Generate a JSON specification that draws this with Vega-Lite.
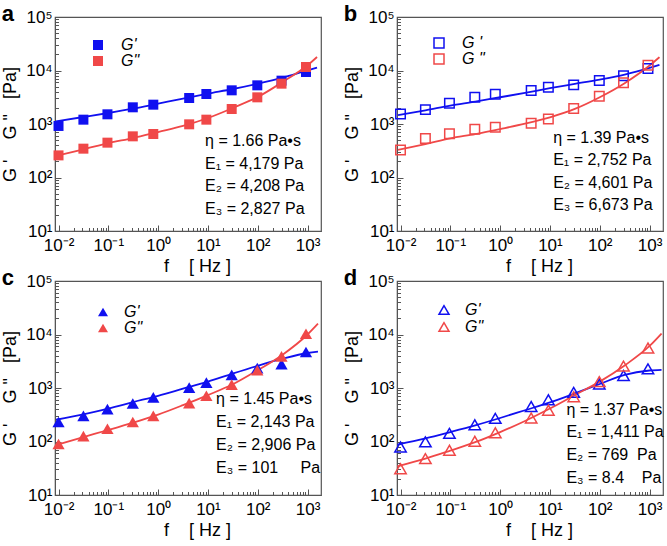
{
  "$schema": "https://vega.github.io/schema/vega-lite/v6.json",
  "padding": {"left": 1, "top": 2, "right": 2, "bottom": 2},
  "columns": 2,
  "spacing": {"row": 50, "column": 76},
  "bounds": "flush",
  "resolve": {"scale": {"color": "independent", "stroke": "independent"}, "legend": {"color": "independent", "stroke": "independent"}},
  "datasets": {
    "points": [
      {"panel": "a", "series": "Gp", "f": 0.01, "G": 919},
      {"panel": "a", "series": "Gp", "f": 0.0316, "G": 1205},
      {"panel": "a", "series": "Gp", "f": 0.096, "G": 1517},
      {"panel": "a", "series": "Gp", "f": 0.31, "G": 2051},
      {"panel": "a", "series": "Gp", "f": 0.8, "G": 2298},
      {"panel": "a", "series": "Gp", "f": 4.2, "G": 3062},
      {"panel": "a", "series": "Gp", "f": 9.3, "G": 3636},
      {"panel": "a", "series": "Gp", "f": 30, "G": 4260},
      {"panel": "a", "series": "Gp", "f": 98, "G": 5280},
      {"panel": "a", "series": "Gp", "f": 300, "G": 6457},
      {"panel": "a", "series": "Gp", "f": 930, "G": 9380},
      {"panel": "a", "series": "Gpp", "f": 0.01, "G": 259},
      {"panel": "a", "series": "Gpp", "f": 0.0316, "G": 346},
      {"panel": "a", "series": "Gpp", "f": 0.096, "G": 448},
      {"panel": "a", "series": "Gpp", "f": 0.31, "G": 588},
      {"panel": "a", "series": "Gpp", "f": 0.8, "G": 650},
      {"panel": "a", "series": "Gpp", "f": 4.2, "G": 986},
      {"panel": "a", "series": "Gpp", "f": 9.3, "G": 1205},
      {"panel": "a", "series": "Gpp", "f": 30, "G": 1905},
      {"panel": "a", "series": "Gpp", "f": 98, "G": 3150},
      {"panel": "a", "series": "Gpp", "f": 300, "G": 5675},
      {"panel": "a", "series": "Gpp", "f": 930, "G": 11620},
      {"panel": "b", "series": "Gp", "f": 0.01, "G": 1540},
      {"panel": "b", "series": "Gp", "f": 0.0316, "G": 1857},
      {"panel": "b", "series": "Gp", "f": 0.096, "G": 2441},
      {"panel": "b", "series": "Gp", "f": 0.31, "G": 3162},
      {"panel": "b", "series": "Gp", "f": 0.8, "G": 3597},
      {"panel": "b", "series": "Gp", "f": 4.2, "G": 4217},
      {"panel": "b", "series": "Gp", "f": 9.3, "G": 4870},
      {"panel": "b", "series": "Gp", "f": 30, "G": 5386},
      {"panel": "b", "series": "Gp", "f": 98, "G": 6494},
      {"panel": "b", "series": "Gp", "f": 300, "G": 7943},
      {"panel": "b", "series": "Gp", "f": 930, "G": 10900},
      {"panel": "b", "series": "Gpp", "f": 0.01, "G": 325},
      {"panel": "b", "series": "Gpp", "f": 0.0316, "G": 538},
      {"panel": "b", "series": "Gpp", "f": 0.096, "G": 659},
      {"panel": "b", "series": "Gpp", "f": 0.31, "G": 794},
      {"panel": "b", "series": "Gpp", "f": 0.8, "G": 866},
      {"panel": "b", "series": "Gpp", "f": 4.2, "G": 1029},
      {"panel": "b", "series": "Gpp", "f": 9.3, "G": 1241},
      {"panel": "b", "series": "Gpp", "f": 30, "G": 1939},
      {"panel": "b", "series": "Gpp", "f": 98, "G": 3306},
      {"panel": "b", "series": "Gpp", "f": 300, "G": 5878},
      {"panel": "b", "series": "Gpp", "f": 930, "G": 12590},
      {"panel": "c", "series": "Gp", "f": 0.01, "G": 232},
      {"panel": "c", "series": "Gp", "f": 0.0316, "G": 301},
      {"panel": "c", "series": "Gp", "f": 0.096, "G": 402},
      {"panel": "c", "series": "Gp", "f": 0.31, "G": 514},
      {"panel": "c", "series": "Gp", "f": 0.8, "G": 667},
      {"panel": "c", "series": "Gp", "f": 4.2, "G": 1014},
      {"panel": "c", "series": "Gp", "f": 9.3, "G": 1262},
      {"panel": "c", "series": "Gp", "f": 30, "G": 1758},
      {"panel": "c", "series": "Gp", "f": 98, "G": 2350},
      {"panel": "c", "series": "Gp", "f": 300, "G": 2799},
      {"panel": "c", "series": "Gp", "f": 930, "G": 4710},
      {"panel": "c", "series": "Gpp", "f": 0.01, "G": 90},
      {"panel": "c", "series": "Gpp", "f": 0.0316, "G": 126},
      {"panel": "c", "series": "Gpp", "f": 0.096, "G": 173},
      {"panel": "c", "series": "Gpp", "f": 0.31, "G": 232},
      {"panel": "c", "series": "Gpp", "f": 0.8, "G": 301},
      {"panel": "c", "series": "Gpp", "f": 4.2, "G": 521},
      {"panel": "c", "series": "Gpp", "f": 9.3, "G": 716},
      {"panel": "c", "series": "Gpp", "f": 30, "G": 1155},
      {"panel": "c", "series": "Gpp", "f": 98, "G": 2153},
      {"panel": "c", "series": "Gpp", "f": 300, "G": 3900},
      {"panel": "c", "series": "Gpp", "f": 930, "G": 10300},
      {"panel": "d", "series": "Gp", "f": 0.01, "G": 79},
      {"panel": "d", "series": "Gp", "f": 0.0316, "G": 98.6},
      {"panel": "d", "series": "Gp", "f": 0.096, "G": 141.6},
      {"panel": "d", "series": "Gp", "f": 0.31, "G": 206},
      {"panel": "d", "series": "Gp", "f": 0.8, "G": 271},
      {"panel": "d", "series": "Gp", "f": 4.2, "G": 451},
      {"panel": "d", "series": "Gp", "f": 9.3, "G": 603},
      {"panel": "d", "series": "Gp", "f": 30, "G": 829},
      {"panel": "d", "series": "Gp", "f": 98, "G": 1189},
      {"panel": "d", "series": "Gp", "f": 300, "G": 1709},
      {"panel": "d", "series": "Gp", "f": 930, "G": 2280},
      {"panel": "d", "series": "Gpp", "f": 0.01, "G": 31},
      {"panel": "d", "series": "Gpp", "f": 0.0316, "G": 47.8},
      {"panel": "d", "series": "Gpp", "f": 0.096, "G": 68.6},
      {"panel": "d", "series": "Gpp", "f": 0.31, "G": 101},
      {"panel": "d", "series": "Gpp", "f": 0.8, "G": 146},
      {"panel": "d", "series": "Gpp", "f": 4.2, "G": 275},
      {"panel": "d", "series": "Gpp", "f": 9.3, "G": 384},
      {"panel": "d", "series": "Gpp", "f": 30, "G": 686},
      {"panel": "d", "series": "Gpp", "f": 98, "G": 1315},
      {"panel": "d", "series": "Gpp", "f": 300, "G": 2564},
      {"panel": "d", "series": "Gpp", "f": 930, "G": 5601}
    ],
    "fits": [
      {"panel": "a", "curve": "Fp", "f": 0.0089, "G": 1120},
      {"panel": "a", "curve": "Fp", "f": 0.0316, "G": 1352},
      {"panel": "a", "curve": "Fp", "f": 0.1, "G": 1606},
      {"panel": "a", "curve": "Fp", "f": 0.316, "G": 1935},
      {"panel": "a", "curve": "Fp", "f": 1, "G": 2400},
      {"panel": "a", "curve": "Fp", "f": 3.16, "G": 2980},
      {"panel": "a", "curve": "Fp", "f": 10, "G": 3690},
      {"panel": "a", "curve": "Fp", "f": 31.6, "G": 4510},
      {"panel": "a", "curve": "Fp", "f": 100, "G": 5675},
      {"panel": "a", "curve": "Fp", "f": 316, "G": 7350},
      {"panel": "a", "curve": "Fp", "f": 1000, "G": 10070},
      {"panel": "a", "curve": "Fp", "f": 1550, "G": 11300},
      {"panel": "a", "curve": "Fpp", "f": 0.0089, "G": 255},
      {"panel": "a", "curve": "Fpp", "f": 0.0316, "G": 336},
      {"panel": "a", "curve": "Fpp", "f": 0.1, "G": 441},
      {"panel": "a", "curve": "Fpp", "f": 0.316, "G": 547},
      {"panel": "a", "curve": "Fpp", "f": 1, "G": 708},
      {"panel": "a", "curve": "Fpp", "f": 3.16, "G": 918},
      {"panel": "a", "curve": "Fpp", "f": 10, "G": 1294},
      {"panel": "a", "curve": "Fpp", "f": 31.6, "G": 1991},
      {"panel": "a", "curve": "Fpp", "f": 100, "G": 3199},
      {"panel": "a", "curve": "Fpp", "f": 316, "G": 6095},
      {"panel": "a", "curve": "Fpp", "f": 1000, "G": 12500},
      {"panel": "a", "curve": "Fpp", "f": 1550, "G": 17880},
      {"panel": "b", "curve": "Fp", "f": 0.0089, "G": 1470},
      {"panel": "b", "curve": "Fp", "f": 0.0316, "G": 1803},
      {"panel": "b", "curve": "Fp", "f": 0.1, "G": 2206},
      {"panel": "b", "curve": "Fp", "f": 0.316, "G": 2622},
      {"panel": "b", "curve": "Fp", "f": 1, "G": 3162},
      {"panel": "b", "curve": "Fp", "f": 3.16, "G": 3814},
      {"panel": "b", "curve": "Fp", "f": 10, "G": 4665},
      {"panel": "b", "curve": "Fp", "f": 31.6, "G": 5623},
      {"panel": "b", "curve": "Fp", "f": 100, "G": 6780},
      {"panel": "b", "curve": "Fp", "f": 316, "G": 8414},
      {"panel": "b", "curve": "Fp", "f": 1000, "G": 11220},
      {"panel": "b", "curve": "Fp", "f": 1580, "G": 12770},
      {"panel": "b", "curve": "Fpp", "f": 0.0089, "G": 330},
      {"panel": "b", "curve": "Fpp", "f": 0.0316, "G": 422},
      {"panel": "b", "curve": "Fpp", "f": 0.1, "G": 538},
      {"panel": "b", "curve": "Fpp", "f": 0.316, "G": 649},
      {"panel": "b", "curve": "Fpp", "f": 1, "G": 806},
      {"panel": "b", "curve": "Fpp", "f": 3.16, "G": 1014},
      {"panel": "b", "curve": "Fpp", "f": 10, "G": 1334},
      {"panel": "b", "curve": "Fpp", "f": 31.6, "G": 1911},
      {"panel": "b", "curve": "Fpp", "f": 100, "G": 3162},
      {"panel": "b", "curve": "Fpp", "f": 316, "G": 5788},
      {"panel": "b", "curve": "Fpp", "f": 1000, "G": 12400},
      {"panel": "b", "curve": "Fpp", "f": 1580, "G": 17780},
      {"panel": "c", "curve": "Fp", "f": 0.0089, "G": 255},
      {"panel": "c", "curve": "Fp", "f": 0.0316, "G": 323},
      {"panel": "c", "curve": "Fp", "f": 0.1, "G": 413},
      {"panel": "c", "curve": "Fp", "f": 0.316, "G": 545},
      {"panel": "c", "curve": "Fp", "f": 1, "G": 716},
      {"panel": "c", "curve": "Fp", "f": 3.16, "G": 970},
      {"panel": "c", "curve": "Fp", "f": 10, "G": 1315},
      {"panel": "c", "curve": "Fp", "f": 31.6, "G": 1862},
      {"panel": "c", "curve": "Fp", "f": 100, "G": 2600},
      {"panel": "c", "curve": "Fp", "f": 316, "G": 3524},
      {"panel": "c", "curve": "Fp", "f": 1000, "G": 4508},
      {"panel": "c", "curve": "Fp", "f": 1620, "G": 4775},
      {"panel": "c", "curve": "Fpp", "f": 0.0089, "G": 86},
      {"panel": "c", "curve": "Fpp", "f": 0.0316, "G": 121},
      {"panel": "c", "curve": "Fpp", "f": 0.1, "G": 164},
      {"panel": "c", "curve": "Fpp", "f": 0.316, "G": 225},
      {"panel": "c", "curve": "Fpp", "f": 1, "G": 318},
      {"panel": "c", "curve": "Fpp", "f": 3.16, "G": 478},
      {"panel": "c", "curve": "Fpp", "f": 10, "G": 738},
      {"panel": "c", "curve": "Fpp", "f": 31.6, "G": 1172},
      {"panel": "c", "curve": "Fpp", "f": 100, "G": 2153},
      {"panel": "c", "curve": "Fpp", "f": 316, "G": 4198},
      {"panel": "c", "curve": "Fpp", "f": 1000, "G": 10000},
      {"panel": "c", "curve": "Fpp", "f": 1620, "G": 15900},
      {"panel": "d", "curve": "Fp", "f": 0.0086, "G": 87.7},
      {"panel": "d", "curve": "Fp", "f": 0.0316, "G": 114},
      {"panel": "d", "curve": "Fp", "f": 0.1, "G": 150},
      {"panel": "d", "curve": "Fp", "f": 0.316, "G": 200},
      {"panel": "d", "curve": "Fp", "f": 1, "G": 275},
      {"panel": "d", "curve": "Fp", "f": 3.16, "G": 384},
      {"panel": "d", "curve": "Fp", "f": 10, "G": 537},
      {"panel": "d", "curve": "Fp", "f": 31.6, "G": 792},
      {"panel": "d", "curve": "Fp", "f": 100, "G": 1189},
      {"panel": "d", "curve": "Fp", "f": 316, "G": 1758},
      {"panel": "d", "curve": "Fp", "f": 1000, "G": 2123},
      {"panel": "d", "curve": "Fp", "f": 1740, "G": 2188},
      {"panel": "d", "curve": "Fpp", "f": 0.0086, "G": 34.3},
      {"panel": "d", "curve": "Fpp", "f": 0.0316, "G": 47.8},
      {"panel": "d", "curve": "Fpp", "f": 0.1, "G": 67.6},
      {"panel": "d", "curve": "Fpp", "f": 0.316, "G": 97},
      {"panel": "d", "curve": "Fpp", "f": 1, "G": 150},
      {"panel": "d", "curve": "Fpp", "f": 3.16, "G": 242},
      {"panel": "d", "curve": "Fpp", "f": 10, "G": 413},
      {"panel": "d", "curve": "Fpp", "f": 31.6, "G": 738},
      {"panel": "d", "curve": "Fpp", "f": 100, "G": 1315},
      {"panel": "d", "curve": "Fpp", "f": 316, "G": 2636},
      {"panel": "d", "curve": "Fpp", "f": 1000, "G": 6110},
      {"panel": "d", "curve": "Fpp", "f": 1740, "G": 10440}
    ],
    "notes": [
      {"panel": "a", "text": "η = 1.66 Pa•s", "fx": 8.75, "gy": 388},
      {"panel": "a", "text": "E₁ = 4,179 Pa", "fx": 8.75, "gy": 147.3},
      {"panel": "a", "text": "E₂ = 4,208 Pa", "fx": 8.75, "gy": 55.9},
      {"panel": "a", "text": "E₃ = 2,827 Pa", "fx": 8.75, "gy": 21.2},
      {"panel": "b", "text": "η = 1.39 Pa•s", "fx": 11.6, "gy": 442},
      {"panel": "b", "text": "E₁ = 2,752 Pa", "fx": 11.6, "gy": 167.8},
      {"panel": "b", "text": "E₂ = 4,601 Pa", "fx": 11.6, "gy": 63.7},
      {"panel": "b", "text": "E₃ = 6,673 Pa", "fx": 11.6, "gy": 24.2},
      {"panel": "c", "text": "η = 1.45 Pa•s", "fx": 14.6, "gy": 502},
      {"panel": "c", "text": "E₁ = 2,143 Pa", "fx": 14.6, "gy": 186.5},
      {"panel": "c", "text": "E₂ = 2,906 Pa", "fx": 14.6, "gy": 69.3},
      {"panel": "c", "text": "E₃ = 101\u00a0\u00a0\u00a0\u00a0\u00a0Pa", "fx": 14.6, "gy": 25.7},
      {"panel": "d", "text": "η = 1.37 Pa•s", "fx": 21.4, "gy": 313},
      {"panel": "d", "text": "E₁ = 1,411 Pa", "fx": 21.4, "gy": 118.8},
      {"panel": "d", "text": "E₂ = 769\u00a0\u00a0Pa", "fx": 21.4, "gy": 45.1},
      {"panel": "d", "text": "E₃ = 8.4\u00a0\u00a0\u00a0\u00a0Pa", "fx": 21.4, "gy": 17.1}
    ]
  },
  "concat": [
    {
      "width": 266, "height": 214,
      "title": {"text": "a"},
      "encoding": {
        "x": {"field": "f", "type": "quantitative", "scale": {"type": "log", "domain": [0.0085, 1862], "nice": false},
          "axis": {"title": "f\u00a0\u00a0\u00a0\u00a0[\u00a0Hz\u00a0]", "titleX": 142, "values": [0.01,0.02,0.03,0.04,0.05,0.06,0.07,0.08,0.09,0.1,0.2,0.3,0.4,0.5,0.6,0.7,0.8,0.9,1,2,3,4,5,6,7,8,9,10,20,30,40,50,60,70,80,90,100,200,300,400,500,600,700,800,900,1000],
            "labelExpr": "abs(log(datum.value)/LN10 - round(log(datum.value)/LN10)) < 0.0001 ? ('10' + (round(log(datum.value)/LN10) < 0 ? '⁻' : '') + ['⁰','¹','²','³','⁴','⁵'][abs(round(log(datum.value)/LN10))]) : ''",
            "tickSize": {"condition": {"test": "abs(log(datum.value)/LN10 - round(log(datum.value)/LN10)) < 0.0001", "value": -6}, "value": -3.5}}},
        "y": {"field": "G", "type": "quantitative", "scale": {"type": "log", "domain": [10, 100000], "nice": false},
          "axis": {"title": "G\u00a0'\u00a0\u00a0\u00a0\u00a0G\u00a0\"\u00a0\u00a0\u00a0[Pa]", "labelPadding": 9, "titlePadding": 6, "values": [10,20,30,40,50,60,70,80,90,100,200,300,400,500,600,700,800,900,1000,2000,3000,4000,5000,6000,7000,8000,9000,10000,20000,30000,40000,50000,60000,70000,80000,90000,100000],
            "labelExpr": "abs(log(datum.value)/LN10 - round(log(datum.value)/LN10)) < 0.0001 ? ('10' + (round(log(datum.value)/LN10) < 0 ? '⁻' : '') + ['⁰','¹','²','³','⁴','⁵'][abs(round(log(datum.value)/LN10))]) : ''",
            "tickSize": {"condition": {"test": "abs(log(datum.value)/LN10 - round(log(datum.value)/LN10)) < 0.0001", "value": -6}, "value": -3.5}}}
      },
      "layer": [
        {"data": {"name": "fits"}, "transform": [{"filter": "datum.panel === 'a'"}],
          "mark": {"type": "line", "strokeWidth": 1.8, "interpolate": "monotone"},
          "encoding": {"stroke": {"field": "curve", "type": "nominal", "scale": {"domain": ["Fp", "Fpp"], "range": ["#1010f0", "#f04848"]}, "legend": null}}},
        {"data": {"name": "points"}, "transform": [{"filter": "datum.panel === 'a'"}],
          "mark": {"type": "point", "shape": "square", "filled": true, "size": 100, "opacity": 1},
          "encoding": {"color": {"field": "series", "type": "nominal", "scale": {"domain": ["Gp", "Gpp"], "range": ["#1010f0", "#f04848"]},
            "legend": {"title": null, "orient": "none", "legendX": 35, "legendY": 20, "symbolType": "square", "labelExpr": "datum.value === 'Gp' ? \"G'\" : 'G\"'", "labelOffset": 15}}}},
        {"data": {"name": "notes"}, "transform": [{"filter": "datum.panel === 'a'"}],
          "mark": {"type": "text", "align": "left", "baseline": "alphabetic", "fontSize": 16, "color": "#000000"},
          "encoding": {"x": {"field": "fx", "type": "quantitative"}, "y": {"field": "gy", "type": "quantitative"}, "text": {"field": "text", "type": "nominal"}}}
      ]
    },
    {
      "width": 266, "height": 214,
      "title": {"text": "b"},
      "encoding": {
        "x": {"field": "f", "type": "quantitative", "scale": {"type": "log", "domain": [0.0085, 1862], "nice": false},
          "axis": {"title": "f\u00a0\u00a0\u00a0\u00a0[\u00a0Hz\u00a0]", "titleX": 142, "values": [0.01,0.02,0.03,0.04,0.05,0.06,0.07,0.08,0.09,0.1,0.2,0.3,0.4,0.5,0.6,0.7,0.8,0.9,1,2,3,4,5,6,7,8,9,10,20,30,40,50,60,70,80,90,100,200,300,400,500,600,700,800,900,1000],
            "labelExpr": "abs(log(datum.value)/LN10 - round(log(datum.value)/LN10)) < 0.0001 ? ('10' + (round(log(datum.value)/LN10) < 0 ? '⁻' : '') + ['⁰','¹','²','³','⁴','⁵'][abs(round(log(datum.value)/LN10))]) : ''",
            "tickSize": {"condition": {"test": "abs(log(datum.value)/LN10 - round(log(datum.value)/LN10)) < 0.0001", "value": -6}, "value": -3.5}}},
        "y": {"field": "G", "type": "quantitative", "scale": {"type": "log", "domain": [10, 100000], "nice": false},
          "axis": {"title": "G\u00a0'\u00a0\u00a0\u00a0\u00a0G\u00a0\"\u00a0\u00a0\u00a0[Pa]", "labelPadding": 9, "titlePadding": 6, "values": [10,20,30,40,50,60,70,80,90,100,200,300,400,500,600,700,800,900,1000,2000,3000,4000,5000,6000,7000,8000,9000,10000,20000,30000,40000,50000,60000,70000,80000,90000,100000],
            "labelExpr": "abs(log(datum.value)/LN10 - round(log(datum.value)/LN10)) < 0.0001 ? ('10' + (round(log(datum.value)/LN10) < 0 ? '⁻' : '') + ['⁰','¹','²','³','⁴','⁵'][abs(round(log(datum.value)/LN10))]) : ''",
            "tickSize": {"condition": {"test": "abs(log(datum.value)/LN10 - round(log(datum.value)/LN10)) < 0.0001", "value": -6}, "value": -3.5}}}
      },
      "layer": [
        {"data": {"name": "fits"}, "transform": [{"filter": "datum.panel === 'b'"}],
          "mark": {"type": "line", "strokeWidth": 1.8, "interpolate": "monotone"},
          "encoding": {"stroke": {"field": "curve", "type": "nominal", "scale": {"domain": ["Fp", "Fpp"], "range": ["#1010f0", "#f04848"]}, "legend": null}}},
        {"data": {"name": "points"}, "transform": [{"filter": "datum.panel === 'b'"}],
          "mark": {"type": "point", "shape": "square", "filled": false, "size": 90, "strokeWidth": 1.5, "opacity": 1},
          "encoding": {"color": {"field": "series", "type": "nominal", "scale": {"domain": ["Gp", "Gpp"], "range": ["#1010f0", "#f04848"]},
            "legend": {"title": null, "orient": "none", "legendX": 34, "legendY": 18, "symbolType": "square", "labelExpr": "datum.value === 'Gp' ? \"G\u00a0'\" : 'G\u00a0\"'", "labelOffset": 15}}}},
        {"data": {"name": "notes"}, "transform": [{"filter": "datum.panel === 'b'"}],
          "mark": {"type": "text", "align": "left", "baseline": "alphabetic", "fontSize": 16, "color": "#000000"},
          "encoding": {"x": {"field": "fx", "type": "quantitative"}, "y": {"field": "gy", "type": "quantitative"}, "text": {"field": "text", "type": "nominal"}}}
      ]
    },
    {
      "width": 266, "height": 214,
      "title": {"text": "c"},
      "encoding": {
        "x": {"field": "f", "type": "quantitative", "scale": {"type": "log", "domain": [0.0085, 1862], "nice": false},
          "axis": {"title": "f\u00a0\u00a0\u00a0\u00a0[\u00a0Hz\u00a0]", "titleX": 142, "values": [0.01,0.02,0.03,0.04,0.05,0.06,0.07,0.08,0.09,0.1,0.2,0.3,0.4,0.5,0.6,0.7,0.8,0.9,1,2,3,4,5,6,7,8,9,10,20,30,40,50,60,70,80,90,100,200,300,400,500,600,700,800,900,1000],
            "labelExpr": "abs(log(datum.value)/LN10 - round(log(datum.value)/LN10)) < 0.0001 ? ('10' + (round(log(datum.value)/LN10) < 0 ? '⁻' : '') + ['⁰','¹','²','³','⁴','⁵'][abs(round(log(datum.value)/LN10))]) : ''",
            "tickSize": {"condition": {"test": "abs(log(datum.value)/LN10 - round(log(datum.value)/LN10)) < 0.0001", "value": -6}, "value": -3.5}}},
        "y": {"field": "G", "type": "quantitative", "scale": {"type": "log", "domain": [10, 100000], "nice": false},
          "axis": {"title": "G\u00a0'\u00a0\u00a0\u00a0\u00a0G\u00a0\"\u00a0\u00a0\u00a0[Pa]", "labelPadding": 9, "titlePadding": 6, "values": [10,20,30,40,50,60,70,80,90,100,200,300,400,500,600,700,800,900,1000,2000,3000,4000,5000,6000,7000,8000,9000,10000,20000,30000,40000,50000,60000,70000,80000,90000,100000],
            "labelExpr": "abs(log(datum.value)/LN10 - round(log(datum.value)/LN10)) < 0.0001 ? ('10' + (round(log(datum.value)/LN10) < 0 ? '⁻' : '') + ['⁰','¹','²','³','⁴','⁵'][abs(round(log(datum.value)/LN10))]) : ''",
            "tickSize": {"condition": {"test": "abs(log(datum.value)/LN10 - round(log(datum.value)/LN10)) < 0.0001", "value": -6}, "value": -3.5}}}
      },
      "layer": [
        {"data": {"name": "fits"}, "transform": [{"filter": "datum.panel === 'c'"}],
          "mark": {"type": "line", "strokeWidth": 1.8, "interpolate": "monotone"},
          "encoding": {"stroke": {"field": "curve", "type": "nominal", "scale": {"domain": ["Fp", "Fpp"], "range": ["#1010f0", "#f04848"]}, "legend": null}}},
        {"data": {"name": "points"}, "transform": [{"filter": "datum.panel === 'c'"}],
          "mark": {"type": "point", "shape": "triangle-up", "filled": true, "size": 150, "opacity": 1},
          "encoding": {"color": {"field": "series", "type": "nominal", "scale": {"domain": ["Gp", "Gpp"], "range": ["#1010f0", "#f04848"]},
            "legend": {"title": null, "orient": "none", "legendX": 40, "legendY": 23, "symbolType": "triangle-up", "labelExpr": "datum.value === 'Gp' ? \"G'\" : 'G\"'", "labelOffset": 13}}}},
        {"data": {"name": "notes"}, "transform": [{"filter": "datum.panel === 'c'"}],
          "mark": {"type": "text", "align": "left", "baseline": "alphabetic", "fontSize": 16, "color": "#000000"},
          "encoding": {"x": {"field": "fx", "type": "quantitative"}, "y": {"field": "gy", "type": "quantitative"}, "text": {"field": "text", "type": "nominal"}}}
      ]
    },
    {
      "width": 266, "height": 214,
      "title": {"text": "d"},
      "encoding": {
        "x": {"field": "f", "type": "quantitative", "scale": {"type": "log", "domain": [0.0085, 1862], "nice": false},
          "axis": {"title": "f\u00a0\u00a0\u00a0\u00a0[\u00a0Hz\u00a0]", "titleX": 142, "values": [0.01,0.02,0.03,0.04,0.05,0.06,0.07,0.08,0.09,0.1,0.2,0.3,0.4,0.5,0.6,0.7,0.8,0.9,1,2,3,4,5,6,7,8,9,10,20,30,40,50,60,70,80,90,100,200,300,400,500,600,700,800,900,1000],
            "labelExpr": "abs(log(datum.value)/LN10 - round(log(datum.value)/LN10)) < 0.0001 ? ('10' + (round(log(datum.value)/LN10) < 0 ? '⁻' : '') + ['⁰','¹','²','³','⁴','⁵'][abs(round(log(datum.value)/LN10))]) : ''",
            "tickSize": {"condition": {"test": "abs(log(datum.value)/LN10 - round(log(datum.value)/LN10)) < 0.0001", "value": -6}, "value": -3.5}}},
        "y": {"field": "G", "type": "quantitative", "scale": {"type": "log", "domain": [10, 100000], "nice": false},
          "axis": {"title": "G\u00a0'\u00a0\u00a0\u00a0\u00a0G\u00a0\"\u00a0\u00a0\u00a0[Pa]", "labelPadding": 9, "titlePadding": 6, "values": [10,20,30,40,50,60,70,80,90,100,200,300,400,500,600,700,800,900,1000,2000,3000,4000,5000,6000,7000,8000,9000,10000,20000,30000,40000,50000,60000,70000,80000,90000,100000],
            "labelExpr": "abs(log(datum.value)/LN10 - round(log(datum.value)/LN10)) < 0.0001 ? ('10' + (round(log(datum.value)/LN10) < 0 ? '⁻' : '') + ['⁰','¹','²','³','⁴','⁵'][abs(round(log(datum.value)/LN10))]) : ''",
            "tickSize": {"condition": {"test": "abs(log(datum.value)/LN10 - round(log(datum.value)/LN10)) < 0.0001", "value": -6}, "value": -3.5}}}
      },
      "layer": [
        {"data": {"name": "fits"}, "transform": [{"filter": "datum.panel === 'd'"}],
          "mark": {"type": "line", "strokeWidth": 1.8, "interpolate": "monotone"},
          "encoding": {"stroke": {"field": "curve", "type": "nominal", "scale": {"domain": ["Fp", "Fpp"], "range": ["#1010f0", "#f04848"]}, "legend": null}}},
        {"data": {"name": "points"}, "transform": [{"filter": "datum.panel === 'd'"}],
          "mark": {"type": "point", "shape": "triangle-up", "filled": false, "size": 130, "strokeWidth": 1.5, "opacity": 1},
          "encoding": {"color": {"field": "series", "type": "nominal", "scale": {"domain": ["Gp", "Gpp"], "range": ["#1010f0", "#f04848"]},
            "legend": {"title": null, "orient": "none", "legendX": 39, "legendY": 21, "symbolType": "triangle-up", "labelExpr": "datum.value === 'Gp' ? \"G'\" : 'G\"'", "labelOffset": 13, "rowPadding": 1}}}},
        {"data": {"name": "notes"}, "transform": [{"filter": "datum.panel === 'd'"}],
          "mark": {"type": "text", "align": "left", "baseline": "alphabetic", "fontSize": 16, "color": "#000000"},
          "encoding": {"x": {"field": "fx", "type": "quantitative"}, "y": {"field": "gy", "type": "quantitative"}, "text": {"field": "text", "type": "nominal"}}}
      ]
    }
  ],
  "config": {
    "font": "Liberation Sans",
    "view": {"stroke": "#555555", "strokeWidth": 1.2},
    "axis": {"domainColor": "#555555", "tickColor": "#555555", "labelColor": "#000000", "titleColor": "#000000", "labelFontSize": 17, "titleFontSize": 18, "titleFontWeight": "normal", "grid": false, "labelOverlap": false, "labelFlush": false, "labelPadding": 12, "titlePadding": 2},
    "legend": {"labelFontSize": 16, "labelFontStyle": "italic", "labelColor": "#000000", "symbolSize": 100, "rowPadding": 0, "padding": 0, "symbolStrokeWidth": 1.5},
    "title": {"anchor": "start", "fontSize": 22, "fontWeight": "bold", "color": "#000000", "dy": 22, "offset": 0}
  }
}
